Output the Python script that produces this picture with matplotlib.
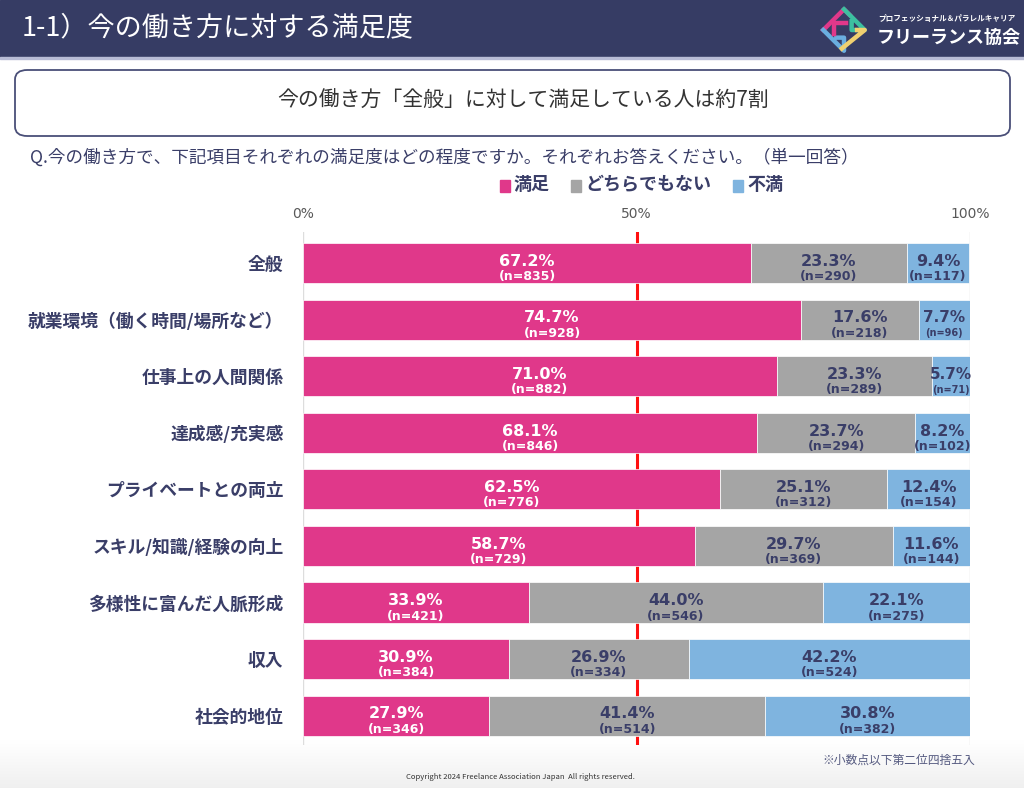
#!/usr/bin/env python
# -*- coding: utf-8 -*-
"""Satisfaction with current way of working - stacked 100% bar chart"""
import numpy as np
import matplotlib
matplotlib.use('Agg')
import matplotlib.pyplot as plt
from matplotlib.patches import FancyBboxPatch, Rectangle

plt.rcParams['font.family'] = ['Noto Sans CJK JP', 'DejaVu Sans']

# data
categories = ['全般', '就業環境（働く時間/場所など）', '仕事上の人間関係', '達成感/充実感',
              'プライベートとの両立', 'スキル/知識/経験の向上', '多様性に富んだ人脈形成',
              '収入', '社会的地位']
satisfied = [67.2, 74.7, 71.0, 68.1, 62.5, 58.7, 33.9, 30.9, 27.9]
neutral = [23.3, 17.6, 23.3, 23.7, 25.1, 29.7, 44.0, 26.9, 41.4]
dissatisfied = [9.4, 7.7, 5.7, 8.2, 12.4, 11.6, 22.1, 42.2, 30.8]
n_sat = [835, 928, 882, 846, 776, 729, 421, 384, 346]
n_neu = [290, 218, 289, 294, 312, 369, 546, 334, 514]
n_dis = [117, 96, 71, 102, 154, 144, 275, 524, 382]
series_names = ['満足', 'どちらでもない', '不満']
tick_labels = ['0%', '50%', '100%']

W, H = 1024, 788
NAVY = '#3a3e68'
colors = ['#e0388a', '#a5a5a5', '#7fb4df']
num_font = ['DejaVu Sans', 'Noto Sans CJK JP']

fig = plt.figure(figsize=(W / 100, H / 100), dpi=100)


def fx(x):
    return x / W


def fy(y):
    return 1 - y / H


# footer background gradient (white -> light grey)
bg = fig.add_axes([0, 0, 1, 1], zorder=-10)
bg.axis('off')
shade = np.linspace(1.0, 0.94, 60)
grad = np.dstack([shade, shade, shade]).reshape(-1, 1, 3)
bg.imshow(grad, extent=[0, 1, 0, fy(740)], aspect='auto', origin='upper')
bg.set_xlim(0, 1)
bg.set_ylim(0, 1)

# header band
fig.patches.append(Rectangle((0, fy(57)), 1, 57 / H, transform=fig.transFigure,
                             color='#363c64', zorder=0))
fig.patches.append(Rectangle((0, fy(59)), 1, 2 / H, transform=fig.transFigure,
                             color='#b8bcd6', zorder=0))
fig.text(fx(22), fy(28), '1-1）今の働き方に対する満足度', color='white',
         fontsize=19.5, va='center', ha='left')

# logo
lax = fig.add_axes([fx(820), fy(54), fx(48), 48 / H], zorder=5)
lax.axis('off')
lax.set_xlim(-1.1, 1.1)
lax.set_ylim(-1.1, 1.1)
lw = 3.2
lax.plot([-0.95, 0, 0.25], [0, 0.95, 0.7], color='#e0388a', lw=lw)
lax.plot([0, 0.95, 0.35, 0.35], [0.95, 0, 0, 0.4], color='#3cc0a0', lw=lw)
lax.plot([-0.95, 0, 0, -0.35], [0, -0.95, -0.35, -0.35], color='#6aaee0', lw=lw)
lax.plot([-0.1, 0.95, 0.6], [-0.85, 0, 0], color='#f0d070', lw=lw)
lax.plot([-0.45, -0.45, 0.1], [-0.2, 0.3, 0.3], color='#e0388a', lw=lw)
fig.text(fx(878), fy(19), 'プロフェッショナル＆パラレルキャリア', color='white',
         fontsize=5.5, fontweight='bold', va='center', ha='left')
fig.text(fx(877), fy(37), 'フリーランス協会', color='white',
         fontsize=13, fontweight='bold', va='center', ha='left')

# summary box
box = FancyBboxPatch((fx(15), fy(136)), fx(995), 66 / H,
                     boxstyle='round,pad=0,rounding_size=0.012',
                     transform=fig.transFigure, facecolor='white',
                     edgecolor='#4a4f78', lw=1.3)
fig.patches.append(box)
fig.text(fx(523), fy(101), '今の働き方「全般」に対して満足している人は約7割',
         color='#333333', fontsize=15, ha='center', va='center')

# question
fig.text(fx(30), fy(157), 'Q.今の働き方で、下記項目それぞれの満足度はどの程度ですか。それぞれお答えください。（単一回答）',
         color=NAVY, fontsize=12.7, ha='left', va='center')

# legend
leg_x = [500, 571, 733]
for name, col, x in zip(series_names, colors, leg_x):
    fig.patches.append(Rectangle((fx(x), fy(192)), 10 / W, 12 / H,
                                 transform=fig.transFigure, color=col))
    fig.text(fx(x + 14), fy(185), name, color=NAVY, fontsize=13,
             fontweight='bold', ha='left', va='center')

# chart
ax = fig.add_axes([fx(303), fy(745), fx(970 - 303), (745 - 232) / H])
y = np.arange(len(categories))
bar_h = 0.71
left = np.zeros(len(categories))
for vals, ns, col in zip([satisfied, neutral, dissatisfied], [n_sat, n_neu, n_dis], colors):
    vals = np.array(vals)
    ax.barh(y, vals, left=left, height=bar_h, color=col, edgecolor='white',
            linewidth=0.5, zorder=3)
    tc = 'white' if col == colors[0] else NAVY
    for yi, v, lft, n in zip(y, vals, left, ns):
        cx = lft + v / 2
        nfs = 7 if v < 8 else 9
        pfs = 11 if v < 8 else 11.5
        ax.text(cx, yi - 0.03, f'{v:.1f}%', color=tc, fontsize=pfs,
                fontweight='bold', ha='center', va='center', family=num_font, zorder=5)
        ax.text(cx, yi + 0.24, f'(n={n})', color=tc, fontsize=nfs,
                fontweight='bold', ha='center', va='center', family=num_font, zorder=5)
    left = left + vals

ax.axvline(50, color='#ff1010', lw=2.2, zorder=2)
for gx in [0, 100]:
    ax.axvline(gx, color='#dddddd', lw=1, zorder=1)
ax.set_xlim(0, 100)
ax.set_ylim(8.52, -0.55)
ax.set_xticks([0, 50, 100])
ax.set_xticklabels(tick_labels, color='#595959', fontsize=10, family=num_font)
ax.xaxis.tick_top()
ax.tick_params(axis='x', length=0, pad=8)
ax.set_yticks(y)
ax.set_yticklabels(categories, color=NAVY, fontsize=12.8, fontweight='bold')
ax.tick_params(axis='y', length=0, pad=14)
for s in ax.spines.values():
    s.set_visible(False)
ax.patch.set_alpha(0)

# footer
fig.text(fx(975), fy(760), '※小数点以下第二位四捨五入', color='#555a80',
         fontsize=8.5, ha='right', va='center')
fig.text(fx(520), fy(777), 'Copyright 2024 Freelance Association Japan  All rights reserved.',
         color='#333333', fontsize=5.5, ha='center', va='center')

fig.savefig('out.png', dpi=100)
plt.close()
